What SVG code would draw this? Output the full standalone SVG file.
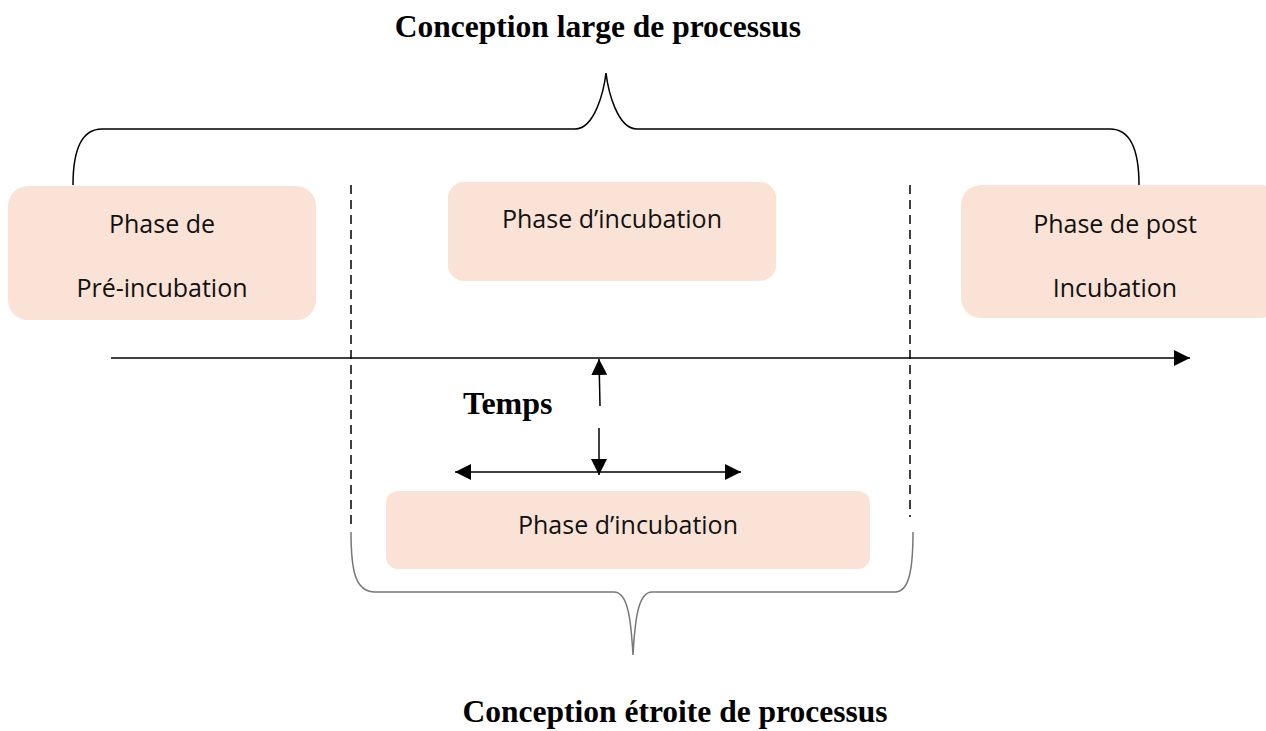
<svg xmlns="http://www.w3.org/2000/svg" width="1266" height="731" viewBox="0 0 1266 731">
<defs>
<style>
.box{fill:#FAE3D6;}
.bt{font-family:"Open Sans","Noto Sans",sans-serif;font-size:25px;fill:#111;text-anchor:middle;}
.title{font-family:"Liberation Serif",serif;font-weight:bold;font-size:31.5px;fill:#000;text-anchor:middle;}
.ln{stroke:#000;stroke-width:1.5;fill:none;}
.dash{stroke:#000;stroke-width:1.5;stroke-dasharray:9,6;fill:none;}
</style>
<marker id="ah2" viewBox="0 0 10 10" refX="10" refY="5" markerWidth="16" markerHeight="16" markerUnits="userSpaceOnUse" orient="auto-start-reverse">
<path d="M0,0 L10,5 L0,10 Z" fill="#000"/>
</marker>
</defs>
<rect width="1266" height="731" fill="#fff"/>
<text class="title" x="598" y="37">Conception large de processus</text>
<text class="title" x="675" y="722">Conception étroite de processus</text>
<text x="463" y="414" style="font-family:'Liberation Serif',serif;font-weight:bold;font-size:32px;fill:#000">Temps</text>

<g id="node-pre">
<rect class="box" x="8" y="186" width="308" height="134" rx="20"/>
<text class="bt" x="162" y="233">Phase de</text>
<text class="bt" x="162" y="297">Pré-incubation</text>
</g>
<g id="node-incub-top">
<rect class="box" x="448" y="182" width="328" height="99" rx="16"/>
<text class="bt" x="612" y="228">Phase d’incubation</text>
</g>
<g id="node-post">
<rect class="box" x="961" y="185" width="320" height="133" rx="20"/>
<text class="bt" x="1115" y="233">Phase de post</text>
<text class="bt" x="1115" y="297">Incubation</text>
</g>
<g id="node-incub-bottom">
<rect class="box" x="386" y="491" width="484" height="78" rx="12"/>
<text class="bt" x="628" y="534">Phase d’incubation</text>
</g>

<g id="connectors">
<path class="ln" d="M73,185 C73,150 82,129 102,129 L575,129 C595,129 604,90 606,73 C608,90 617,129 637,129 L1110,129 C1130,129 1139,150 1139,185"/>
<path d="M351,532 C351,570 355,592 375,592 L614,592 C628,592 631,620 633,655 C635,620 638,592 652,592 L895,592 C909,592 913,570 913,532" stroke="#777" stroke-width="1.5" fill="none"/>
<line class="dash" x1="351" y1="185" x2="351" y2="525"/>
<line class="dash" x1="910" y1="185" x2="910" y2="517"/>
<line stroke="#000" stroke-width="1.5" x1="111" y1="358" x2="1190" y2="358" marker-end="url(#ah2)"/>
<line class="ln" x1="600" y1="406" x2="599" y2="359" marker-end="url(#ah2)"/>
<line class="ln" x1="599" y1="428" x2="599" y2="475" marker-end="url(#ah2)"/>
<line class="ln" x1="455" y1="472" x2="741" y2="472" marker-start="url(#ah2)" marker-end="url(#ah2)"/>
</g>
</svg>
